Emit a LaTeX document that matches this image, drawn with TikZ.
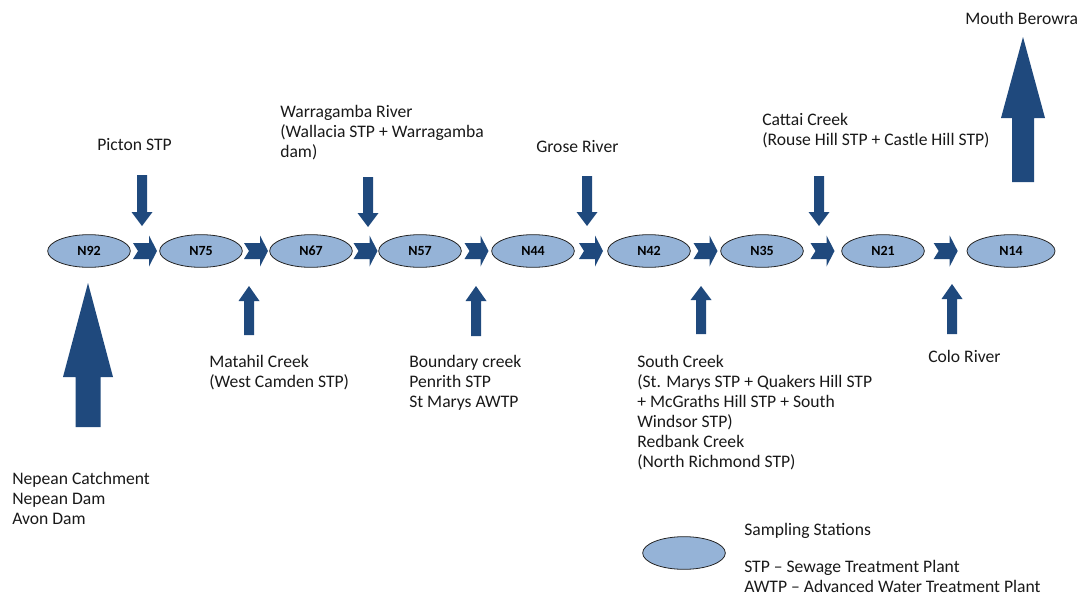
\documentclass[tikz,border=0pt]{standalone}
\usepackage{fontspec}
\setmainfont{Carlito}
\usepackage{tikz}
\usetikzlibrary{shapes,shapes.geometric}
\usetikzlibrary{calc}
\definecolor{flowblue}{RGB}{31,73,125}
\definecolor{stationblue}{RGB}{149,179,215}
\tikzset{
  station/.style={ellipse, draw=black!85, line width=0.6pt, fill=stationblue,
    minimum width=62pt, minimum height=24.5pt, inner sep=0pt,
    font=\fontsize{10.5}{12}\selectfont\bfseries},
  lbl/.style={anchor=west, align=left, inner sep=0pt, text=black!90,
    font=\fontsize{13.2}{15}\selectfont},
  flowfill/.style={fill=flowblue},
  chev/.pic={\fill[flowfill] (-12,-8) -- (4,-8) -- (4,-15.5) -- (12,0)
    -- (4,15.5) -- (4,8) -- (-12,8) -- (-7,0) -- cycle;}
}
% x, tail y, head base y, tip y, half shaft, half head
\newcommand{\vflow}[6]{\fill[flowfill] (#1-#5,#2) -- (#1+#5,#2) -- (#1+#5,#3)
  -- (#1+#6,#3) -- (#1,#4) -- (#1-#6,#3) -- (#1-#5,#3) -- cycle;}
\begin{document}
\begin{tikzpicture}[x=0.75pt, y=-0.75pt]
  \useasboundingbox (0,0) rectangle (1082,596);
  % sampling stations
  \node[station] (n92) at (89,251) {N92};
  \node[station] (n75) at (201,251) {N75};
  \node[station] (n67) at (311,251) {N67};
  \node[station] (n57) at (420,251) {N57};
  \node[station] (n44) at (533,251) {N44};
  \node[station] (n42) at (649,251) {N42};
  \node[station] (n35) at (762,251) {N35};
  \node[station] (n21) at (883,251) {N21};
  \node[station, minimum width=66pt] (n14) at (1011,251) {N14};
  % flow between stations
  \foreach \a/\b in {n92/n75, n75/n67, n67/n57, n57/n44, n44/n42, n42/n35, n35/n21, n21/n14}
    \pic at ($(\a.east)!0.5!(\b.west)$) {chev};
  % inflows from above
  \vflow{142}{175}{212}{226}{5}{10.5}
  \vflow{368}{177}{213}{227}{5}{10.5}
  \vflow{587}{176}{212}{226}{5}{10.5}
  \vflow{819}{176}{212}{226}{5}{10.5}
  % inflows from below
  \vflow{249}{335}{301}{286}{5}{10.5}
  \vflow{476}{336}{301}{286}{5}{10.5}
  \vflow{701}{334}{300}{286}{5}{10.5}
  \vflow{952}{334}{299}{284}{5}{10.5}
  % catchment and mouth
  \vflow{88}{427}{377}{283}{12.5}{25}
  \vflow{1023}{182}{118}{37}{11}{22}
  % labels
  \node[lbl] (picton) at (97,145) {Picton STP};
  \node[lbl] (warragamba) at (280,133) {Warragamba River\\(Wallacia STP + Warragamba\\dam)};
  \node[lbl] (grose) at (536,147) {Grose River};
  \node[lbl] (cattai) at (762,131) {Cattai Creek\\(Rouse Hill STP + Castle Hill STP)};
  \node[lbl] (berowra) at (965,18) {Mouth Berowra};
  \node[lbl] (matahil) at (209,372.5) {Matahil Creek\\(West Camden STP)};
  \node[lbl] (boundary) at (409,383) {Boundary creek\\Penrith STP\\St Marys AWTP};
  \node[lbl] (south) at (637,413) {South Creek\\(St. Marys STP + Quakers Hill STP\\+ McGraths Hill STP + South\\Windsor STP)\\Redbank Creek\\(North Richmond STP)};
  \node[lbl] (colo) at (928,356) {Colo River};
  \node[lbl] (nepean) at (12,498) {Nepean Catchment\\Nepean Dam\\Avon Dam};
  % legend
  \node[station] (key) at (684,553) {};
  \node[lbl] (keytext) at (744,531) {Sampling Stations};
  \node[lbl] (abbrev) at (744,576) {STP -- Sewage Treatment Plant\\AWTP -- Advanced Water Treatment Plant};
\end{tikzpicture}
\end{document}
